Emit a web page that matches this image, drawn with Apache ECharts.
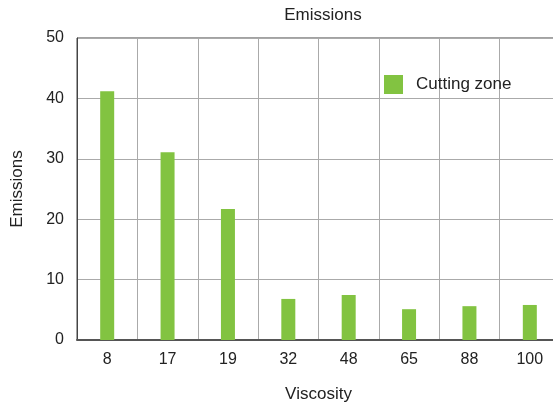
<!DOCTYPE html>
<html><head><meta charset="utf-8">
<script src="https://cdn.jsdelivr.net/npm/echarts@6/dist/echarts.min.js"></script>
<style>html,body{margin:0;padding:0;background:#fff}#c{width:553px;height:405px}</style>
</head><body><div id="c"></div>
<script>
const categories = ['8','17','19','32','48','65','88','100'];
const cuttingZone = [41.2, 31.1, 21.7, 6.8, 7.45, 5.1, 5.6, 5.8];
const yTicks = {min:0, max:50, interval:10};

const chart = echarts.init(document.getElementById('c'));
const font = 'Liberation Sans, Arial, sans-serif';
chart.setOption({
  animation:false,
  title:{text:'Emissions', left:318, top:2, textAlign:'center',
    textStyle:{fontFamily:font, fontSize:17, fontWeight:'normal', color:'#222'}},
  legend:{left:384, top:75, padding:0, itemWidth:19, itemHeight:19, icon:'rect',
    textStyle:{fontFamily:font, fontSize:17, color:'#222', padding:[2,0,0,8]},
    data:['Cutting zone']},
  grid:{left:77, top:38, width:483, bottom:65, outerBoundsMode:'none', containLabel:false,
    show:true, borderColor:'#444', borderWidth:1, backgroundColor:'transparent'},
  xAxis:{type:'category', data:categories, name:'Viscosity', nameLocation:'middle', nameGap:46,
    nameTextStyle:{fontFamily:font, fontSize:17, color:'#222'},
    axisLine:{lineStyle:{color:'#555', width:2}}, axisTick:{show:false},
    axisLabel:{fontFamily:font, fontSize:16, color:'#222', margin:12},
    splitLine:{show:true, lineStyle:{color:'#aaa', width:1}}},
  yAxis:{type:'value', min:yTicks.min, max:yTicks.max, interval:yTicks.interval,
    name:'Emissions', nameLocation:'middle', nameGap:51,
    nameTextStyle:{fontFamily:font, fontSize:17, color:'#222'},
    axisLine:{show:true, lineStyle:{color:'#444', width:1}}, axisTick:{show:false},
    axisLabel:{fontFamily:font, fontSize:16, color:'#222', margin:13},
    splitLine:{show:true, lineStyle:{color:'#aaa', width:1}}},
  series:[{name:'Cutting zone', type:'bar', data:cuttingZone, barWidth:14,
    itemStyle:{color:'#82c341'}}]
});
</script></body></html>
